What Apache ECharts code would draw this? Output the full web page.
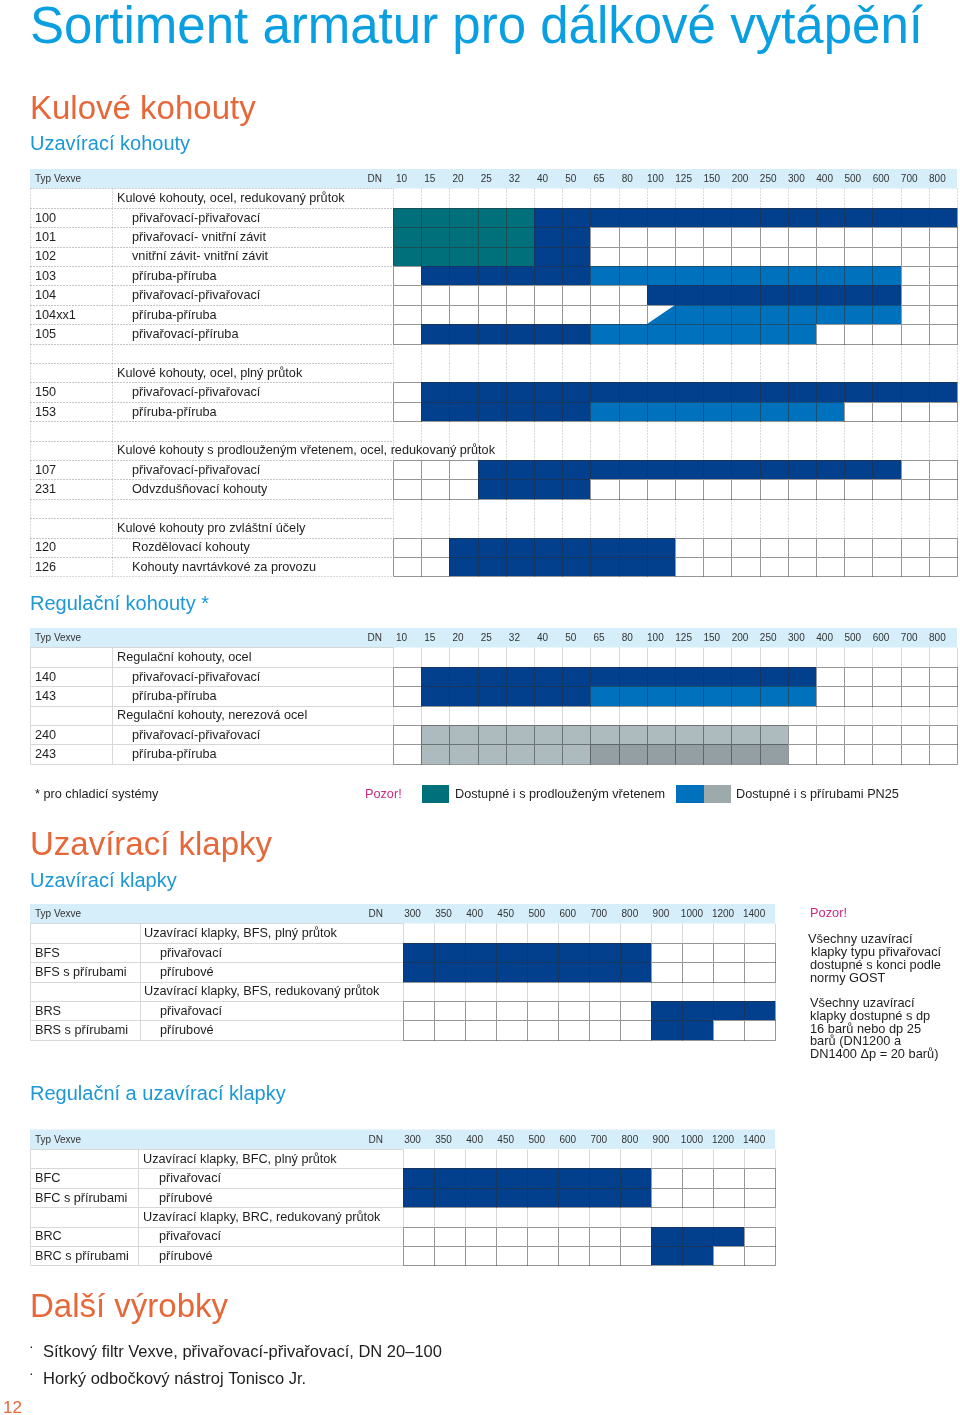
<!DOCTYPE html>
<html><head><meta charset="utf-8">
<script src="https://cdn.jsdelivr.net/npm/echarts@6/dist/echarts.min.js"></script>
<style>html,body{margin:0;padding:0;background:#fff}#c{width:960px;height:1415px}</style>
</head><body><div id="c"></div>
<script>
// ---------- DATA ----------
const dnKohouty = ['10','15','20','25','32','40','50','65','80','100','125','150','200','250','300','400','500','600','700','800'];
const dnKlapky = ['300','350','400','450','500','600','700','800','900','1000','1200','1400'];

// Cell codes: '.' not available, T teal (extended stem), D dark blue, M medium blue (PN25 flanges),
// G light grey (stainless), H dark grey (stainless PN25), X half cell (diagonal)
const kulCodes = ['', '100','101','102','103','104','104xx1','105','', '', '150','153','', '', '107','231','', '', '120','126'];
const kulLabels = ['Kulové kohouty, ocel, redukovaný průtok','přivařovací-přivařovací','přivařovací- vnitřní závit','vnitřní závit- vnitřní závit','příruba-příruba','přivařovací-přivařovací','příruba-příruba','přivařovací-příruba','','Kulové kohouty, ocel, plný průtok','přivařovací-přivařovací','příruba-příruba','','Kulové kohouty s prodlouženým vřetenem, ocel, redukovaný průtok','přivařovací-přivařovací','Odvzdušňovací kohouty','','Kulové kohouty pro zvláštní účely','Rozdělovací kohouty','Kohouty navrtávkové za provozu'];
const kulCells = [
  '',
  'TTTTTDDDDDDDDDDDDDDD',
  'TTTTTDD.............',
  'TTTTTDD.............',
  '.DDDDDDMMMMMMMMMMM..',
  '.........DDDDDDDDD..',
  '.........XMMMMMMMM..',
  '.DDDDDDMMMMMMMM.....',
  '', '',
  '.DDDDDDDDDDDDDDDDDDD',
  '.DDDDDDMMMMMMMMM....',
  '', '',
  '...DDDDDDDDDDDDDDD..',
  '...DDDD.............',
  '', '',
  '..DDDDDDDD..........',
  '..DDDDDDDD..........'
];

const regCodes = ['', '140','143','', '240','243'];
const regLabels = ['Regulační kohouty, ocel','přivařovací-přivařovací','příruba-příruba','Regulační kohouty, nerezová ocel','přivařovací-přivařovací','příruba-příruba'];
const regCells = ['', '.DDDDDDDDDDDDDD.....', '.DDDDDDMMMMMMMM.....', '', '.GGGGGGGGGGGGG......', '.GGGGGGHHHHHHH......'];

const uzkCodes = ['', 'BFS','BFS s přírubami','', 'BRS','BRS s přírubami'];
const uzkLabels = ['Uzavírací klapky, BFS, plný průtok','přivařovací','přírubové','Uzavírací klapky, BFS, redukovaný průtok','přivařovací','přírubové'];
const uzkCells = ['', 'DDDDDDDD....', 'DDDDDDDD....', '', '........DDDD', '........DD..'];

const ruzCodes = ['', 'BFC','BFC s přírubami','', 'BRC','BRC s přírubami'];
const ruzLabels = ['Uzavírací klapky, BFC, plný průtok','přivařovací','přírubové','Uzavírací klapky, BRC, redukovaný průtok','přivařovací','přírubové'];
const ruzCells = ['', 'DDDDDDDD....', 'DDDDDDDD....', '', '........DDD.', '........DD..'];

// ---------- STYLE / LAYOUT ----------
const FONT = "'Liberation Sans', Arial, Helvetica, sans-serif";
const FILL = {'.':'#ffffff', T:'#00707a', D:'#023f8c', M:'#0071bc', G:'#adbbbf', H:'#939fa2', X:'#0071bc'};
const BLUE = '#0a9fe0', ORANGE = '#e6683a', SUBBLUE = '#1c98d6', MAGENTA = '#cc2a80', TXT = '#1e1e1e';
const ROW_H = 19.4;
const ROW_FS = 12.7;
const tables = [
  {codes:kulCodes, labels:kulLabels, cells:kulCells, dn:dnKohouty, headTop:169, left:30, dnLeft:393, colW:28.2, divX:112, subX:117, descX:132, dnX:382, dotted:true},
  {codes:regCodes, labels:regLabels, cells:regCells, dn:dnKohouty, headTop:628, left:30, dnLeft:393, colW:28.2, divX:112, subX:117, descX:132, dnX:382, dotted:false},
  {codes:uzkCodes, labels:uzkLabels, cells:uzkCells, dn:dnKlapky, headTop:904, left:30, dnLeft:402.5, colW:31.05, divX:140, subX:144, descX:160, dnX:383, dotted:false},
  {codes:ruzCodes, labels:ruzLabels, cells:ruzCells, dn:dnKlapky, headTop:1129.6, left:30, dnLeft:402.5, colW:31.05, divX:138, subX:143, descX:159, dnX:383, dotted:false}
];

const crisp = v => Math.round(v) + 0.5;

function rowRender(t){
  return function(params, api){
    const r = api.value(1);
    const c = api.coord([0, r]);
    const s = api.size([1, 1]);
    const cw = s[0], rh = s[1];
    const n = t.dn.length;
    const x0 = c[0] - cw/2, yT = crisp(c[1] - rh/2), yB = crisp(c[1] + rh/2);
    const ls = t.dotted ? {stroke:'#b4b4b4', lineWidth:1, lineDash:[1,2]} : {stroke:'#d8d8d8', lineWidth:1};
    const ch = [];
    const L = (a,b,c2,d) => ch.push({type:'line', shape:{x1:a,y1:b,x2:c2,y2:d}, style:ls});
    L(crisp(t.left), yT, crisp(x0), yT);
    L(crisp(t.left), yB, crisp(x0), yB);
    L(crisp(t.left), yT, crisp(t.left), yB);
    L(crisp(t.divX), yT, crisp(t.divX), yB);
    if (!t.cells[r]) {
      for (let i = 0; i <= n; i++) L(crisp(x0 + i*cw), yT, crisp(x0 + i*cw), yB);
    }
    const code = t.codes[r], lab = t.labels[r];
    if (code) ch.push({type:'text', style:{text:code, x:35, y:c[1] + 0.5, fill:TXT, fontSize:ROW_FS, fontFamily:FONT, verticalAlign:'middle'}});
    if (lab) ch.push({type:'text', style:{text:lab, x: code ? t.descX : t.subX, y:c[1] + 0.5, fill:TXT, fontSize:ROW_FS, fontFamily:FONT, verticalAlign:'middle'}});
    return {type:'group', children:ch};
  };
}

function cellRender(cellData){
  return function(params, api){
    const k = cellData[params.dataIndex][2];
    const c = api.coord([api.value(0), api.value(1)]);
    const s = api.size([1, 1]);
    const xl = Math.round(c[0] - s[0]/2), xr = Math.round(c[0] + s[0]/2);
    const yt = Math.round(c[1] - s[1]/2), yb = Math.round(c[1] + s[1]/2);
    const ch = [];
    if (k === 'X') {
      ch.push({type:'rect', shape:{x:xl, y:yt, width:xr-xl, height:yb-yt}, style:{fill:'#fff'}});
      ch.push({type:'polygon', shape:{points:[[xl,yb],[xr,yt],[xr,yb]]}, style:{fill:FILL.X}});
    } else {
      ch.push({type:'rect', shape:{x:xl, y:yt, width:xr-xl, height:yb-yt}, style:{fill:FILL[k]}});
    }
    ch.push({type:'rect', shape:{x:xl+0.5, y:yt+0.5, width:xr-xl, height:yb-yt}, style:{fill:null, stroke:'rgba(45,45,45,0.5)', lineWidth:1}});
    return {type:'group', children:ch};
  };
}

const grids = [], xAxes = [], yAxes = [], series = [], graphics = [];
tables.forEach((t, i) => {
  const nR = t.cells.length, n = t.dn.length;
  grids.push({left:t.dnLeft, top:t.headTop + ROW_H, width:t.colW*n, height:ROW_H*nR});
  xAxes.push({gridIndex:i, type:'category', data:t.dn, position:'top', z:10,
    axisLine:{show:false}, axisTick:{show:false}, splitLine:{show:false},
    axisLabel:{interval:0, fontSize:10, color:'#333', fontFamily:FONT, margin:4, padding:[0,11,0,0]}});
  yAxes.push({gridIndex:i, type:'category', data:t.cells.map((_, r) => String(r)), inverse:true, show:false});
  series.push({type:'custom', xAxisIndex:i, yAxisIndex:i, clip:false, silent:true, z:2,
    renderItem:rowRender(t), data:t.cells.map((_, r) => [0, r])});
  const cellData = [];
  t.cells.forEach((row, r) => { for (let j = 0; j < row.length; j++) cellData.push([j, r, row[j]]); });
  series.push({type:'custom', xAxisIndex:i, yAxisIndex:i, clip:false, silent:true, z:3,
    renderItem:cellRender(cellData), data:cellData.map(d => [d[0], d[1]])});
  graphics.push({type:'rect', z:-10, shape:{x:t.left, y:t.headTop, width:t.dnLeft + t.colW*n - t.left, height:ROW_H}, style:{fill:'#d5eefa'}});
  graphics.push({type:'text', x:35, y:t.headTop + ROW_H/2 + 0.5, style:{text:'Typ Vexve', fontSize:10, fill:'#333', fontFamily:FONT, verticalAlign:'middle'}});
  graphics.push({type:'text', x:t.dnX, y:t.headTop + ROW_H/2 + 0.5, style:{text:'DN', fontSize:10, fill:'#333', fontFamily:FONT, verticalAlign:'middle', align:'right'}});
});

const txt = (x, y, text, size, color, extra) => ({type:'text', x, y, style:Object.assign({text, fontSize:size, fill:color, fontFamily:FONT, verticalAlign:'middle'}, extra || {})});
graphics.push(
  txt(30, 29, 'Sortiment armatur pro dálkové vytápění', 51, BLUE),
  txt(30, 110, 'Kulové kohouty', 33, ORANGE),
  txt(30, 144.5, 'Uzavírací kohouty', 20, SUBBLUE),
  txt(30, 604.5, 'Regulační kohouty *', 20, SUBBLUE),
  txt(35, 794.5, '* pro chladicí systémy', ROW_FS, TXT),
  txt(365, 794.5, 'Pozor!', ROW_FS, MAGENTA),
  {type:'rect', shape:{x:422, y:785, width:27, height:18}, style:{fill:FILL.T}},
  txt(455, 794.5, 'Dostupné i s prodlouženým vřetenem', ROW_FS, TXT),
  {type:'rect', shape:{x:676, y:785, width:28, height:18}, style:{fill:FILL.M}},
  {type:'rect', shape:{x:704, y:785, width:27, height:18}, style:{fill:'#9ea9ac'}},
  txt(736, 794.5, 'Dostupné i s přírubami PN25', ROW_FS, TXT),
  txt(30, 846, 'Uzavírací klapky', 33, ORANGE),
  txt(30, 881.5, 'Uzavírací klapky', 20, SUBBLUE),
  txt(810, 913.5, 'Pozor!', 12.8, MAGENTA),
  txt(808, 939.5, 'Všechny uzavírací', 12.8, TXT),
  txt(811, 952.5, 'klapky typu přivařovací', 12.8, TXT),
  txt(810, 965.5, 'dostupné s konci podle', 12.8, TXT),
  txt(810, 978.5, 'normy GOST', 12.8, TXT),
  txt(810, 1003.5, 'Všechny uzavírací', 12.8, TXT),
  txt(810, 1016.5, 'klapky dostupné s dp', 12.8, TXT),
  txt(810, 1029.5, '16 barů nebo dp 25', 12.8, TXT),
  txt(810, 1041.5, 'barů (DN1200 a', 12.8, TXT),
  txt(810, 1054.5, 'DN1400 Δp = 20 barů)', 12.8, TXT),
  txt(30, 1094.5, 'Regulační a uzavírací klapky', 20, SUBBLUE),
  txt(30, 1308, 'Další výrobky', 33, ORANGE),
  txt(29, 1347, '·', 14, TXT),
  txt(43, 1352, 'Sítkový filtr Vexve, přivařovací-přivařovací, DN 20–100', 16.5, TXT),
  txt(29, 1374, '·', 14, TXT),
  txt(43, 1379, 'Horký odbočkový nástroj Tonisco Jr.', 16.5, TXT),
  txt(3, 1408, '12', 17, ORANGE)
);

const chart = echarts.init(document.getElementById('c'), null, {renderer:'canvas'});
chart.setOption({
  animation:false,
  backgroundColor:'#ffffff',
  textStyle:{fontFamily:FONT},
  grid:grids, xAxis:xAxes, yAxis:yAxes, series, graphic:graphics
});
</script></body></html>
